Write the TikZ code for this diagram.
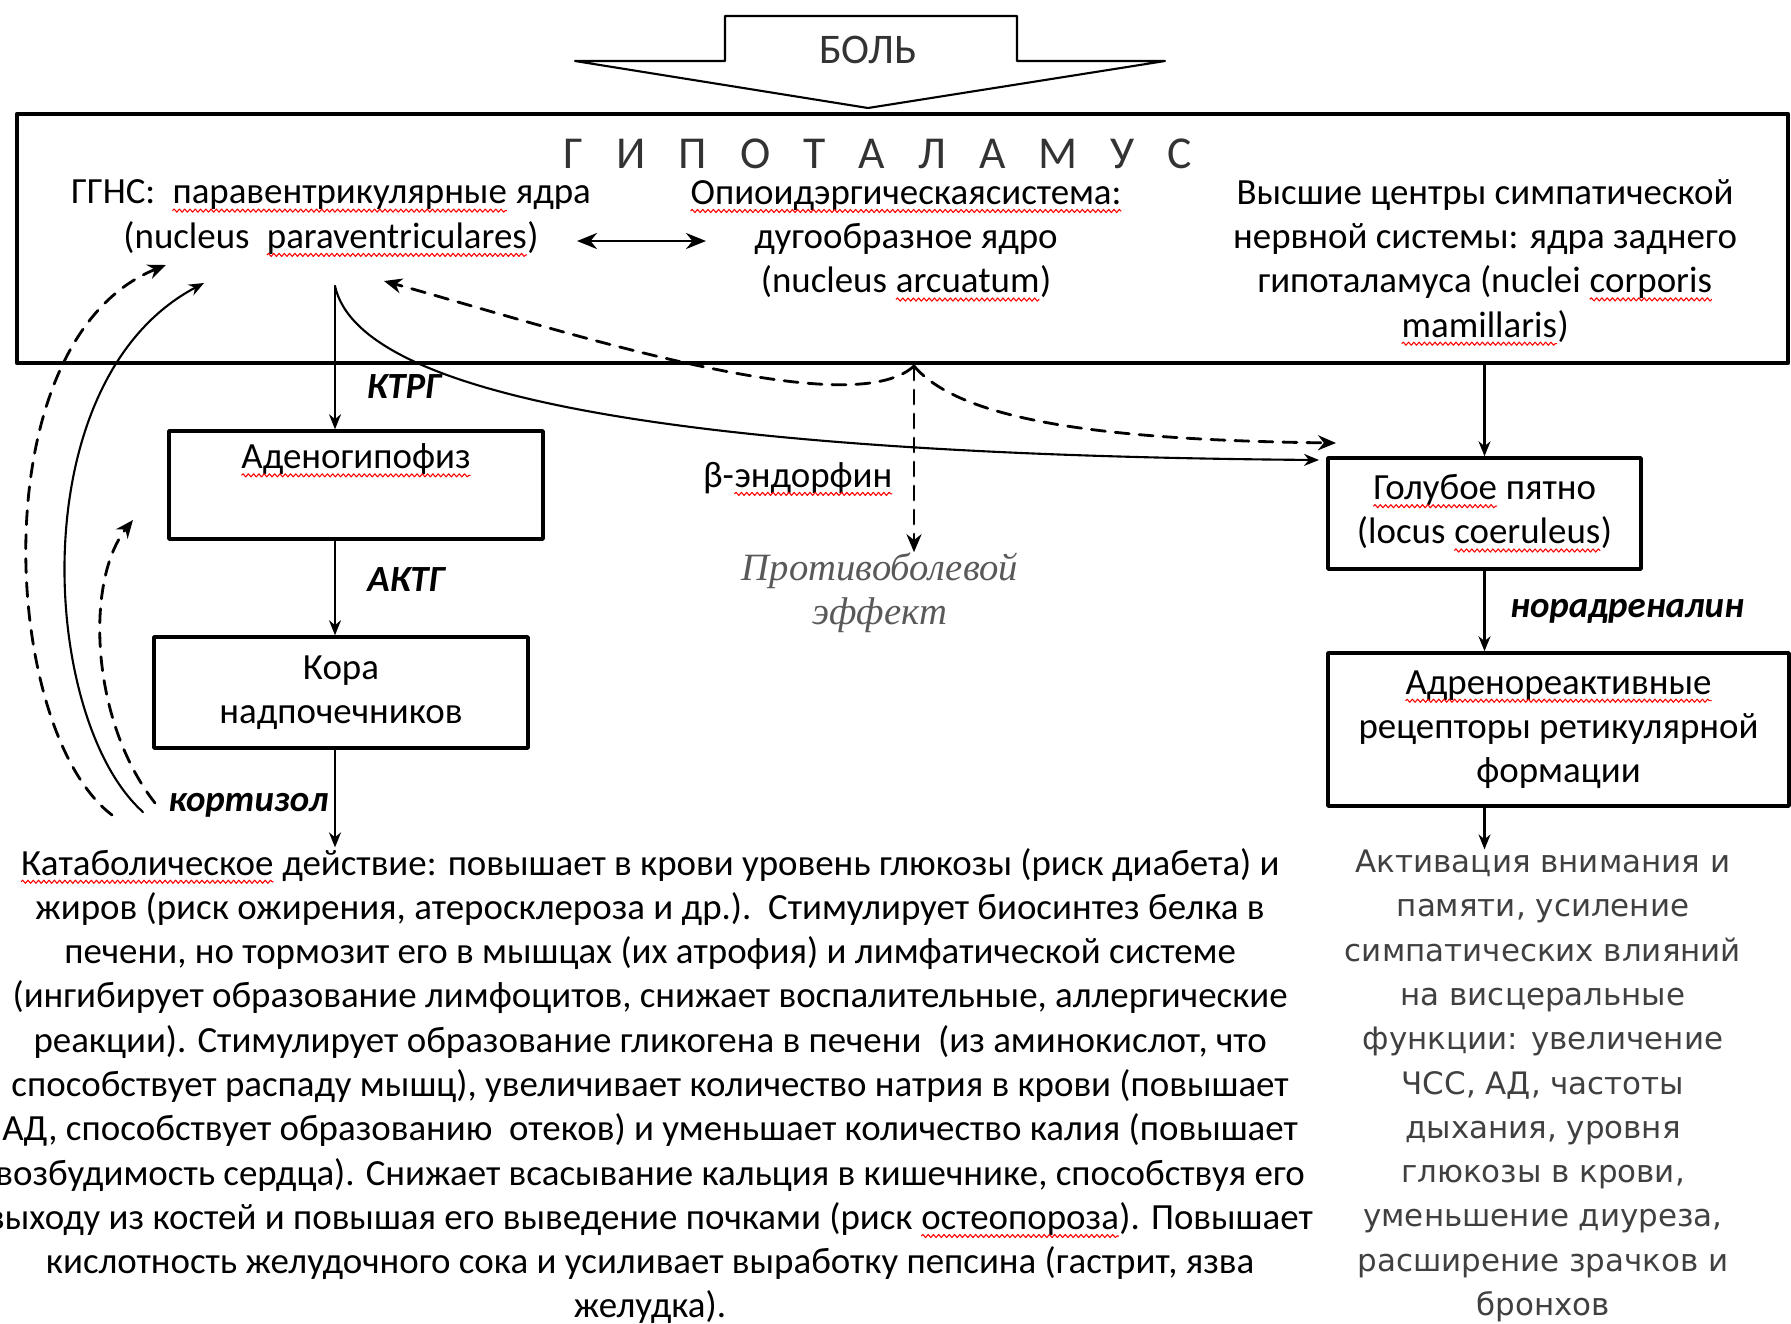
\documentclass[tikz,border=0pt]{standalone}
\usepackage{fontspec}
\setmainfont{Carlito}
\newfontfamily\wideface{DejaVu Sans}
\newfontfamily\serifface{Liberation Serif}
\usetikzlibrary{arrows.meta,decorations.pathmorphing}
\newcommand\spell[1]{\tikz[baseline=(w.base),x=1pt,y=1pt]{\node[inner sep=0pt,outer sep=0pt,anchor=base,minimum size=0pt,draw=none,fill=none] (w) at (0,0) {#1};
  \draw[red,line width=0.3pt,fill=none,decorate,decoration={snake,amplitude=0.45pt,segment length=1.5pt}] ([yshift=-1.9pt]w.base west) -- ([yshift=-1.9pt]w.base east);}}
\newcommand\tgap{\hspace{3.3mm}}

\begin{document}
\begin{tikzpicture}[x=0.1mm,y=-0.1mm,>={Stealth[length=1.5mm,width=1.2mm]},line cap=round,line join=round,
  txt/.style={align=center,inner sep=0pt,font=\fontsize{10.5}{12.6}\selectfont},
  tag/.style={inner sep=0pt,font=\fontsize{10.5}{12.6}\selectfont\bfseries\itshape},
  box/.style={draw,line width=1pt,fill=white,align=center,inner sep=0pt,font=\fontsize{10.5}{12.6}\selectfont},
  link/.style={->,line width=0.6pt},
  dlink/.style={-{Stealth[length=1.8mm,width=1.5mm]},line width=0.8pt,dash pattern=on 1.4mm off 1mm}]
\useasboundingbox (0,0) rectangle (1791,1323);
% pain input
\draw[line width=0.6pt,fill=white] (725,61) -- (725,16) -- (1017,16) -- (1017,61) -- (1165,61) -- (868,108) -- (575,61) -- cycle;
\node[font=\fontsize{12}{14}\selectfont,text=black!80] (pain) at (868,50) {БОЛЬ};
% hypothalamus
\node[draw,line width=1.3pt,minimum width=177.1mm,minimum height=24.9mm,inner sep=0pt] (hypo) at (902.5,238.5) {};
\node[inner sep=0pt,font=\fontsize{13}{14}\selectfont,text=black!80] (title) at (878,154) {Г\tgap И\tgap П\tgap О\tgap Т\tgap А\tgap Л\tgap А\tgap М\tgap У\tgap С};
\node[txt] (pvn) at (331,218.5) {ГГНС:\ \ \spell{паравентрикулярные} ядра\\(nucleus\ \ \spell{paraventriculares})};
\node[txt] (arc) at (906,241) {\spell{Опиоидэргическаясистема:}\\дугообразное ядро\\(nucleus \spell{arcuatum})};
\node[txt] (symp) at (1485,262.5) {Высшие центры симпатической\\нервной системы: ядра заднего\\гипоталамуса (nuclei \spell{corporis}\\\spell{mamillaris})};
\coordinate (pvnR) at (577,241);
\coordinate (arcL) at (706,241);
\draw[{Stealth[length=2mm,width=1.6mm]}-{Stealth[length=2mm,width=1.6mm]},line width=0.8pt] (pvnR) -- (arcL);
% left branch
\node[box,minimum width=37.4mm,minimum height=10.8mm] (adeno) at (356,485) {\spell{Аденогипофиз}\\\strut};
\node[box,minimum width=37.4mm,minimum height=11.1mm] (kora) at (341,692.5) {Кора\\надпочечников};
\node[tag] (ktrg) at (404,387) {КТРГ};
\node[tag] (aktg) at (406,580) {АКТГ};
\node[tag,anchor=east] (cort) at (329,805) {кортизол};
\node[txt] (fx1) at (650,1086) {\spell{Катаболическое} действие: повышает в крови уровень глюкозы (риск диабета) и\\
  жиров (риск ожирения, атеросклероза и др.).\ \ Стимулирует биосинтез белка в\\
  печени, но тормозит его в мышцах (их атрофия) и лимфатической системе\\
  (ингибирует образование лимфоцитов, снижает воспалительные, аллергические\\
  реакции). Стимулирует образование гликогена в печени\ \ (из аминокислот, что\\
  способствует распаду мышц), увеличивает количество натрия в крови (повышает\\
  АД, способствует образованию\ \ отеков) и уменьшает количество калия (повышает\\
  возбудимость сердца). Снижает всасывание кальция в кишечнике, способствуя его\\
  выходу из костей и повышая его выведение почками (риск \spell{остеопороза}). Повышает\\
  кислотность желудочного сока и усиливает выработку пепсина (гастрит, язва\\
  желудка).};
\coordinate (pvnout) at (335,286);
\draw[link] (pvnout) -- (pvnout |- adeno.north);
\draw[link] (pvnout |- adeno.south) -- (pvnout |- kora.north);
\draw[link] (pvnout |- kora.south) -- (pvnout |- fx1.north);
% feedback loops
\coordinate (fbA) at (143,812);
\coordinate (fbB) at (112,815);
\coordinate (fbC) at (155,803);
\coordinate (pvnA) at (204,283);
\coordinate (pvnB) at (166,265);
\coordinate (adenoA) at (133,520);
\draw[link] (fbA) .. controls (40,720) and (20,380) .. (pvnA);
\draw[dlink] (fbB) .. controls (0,730) and (-20,340) .. (pvnB);
\draw[dlink] (fbC) .. controls (90,720) and (85,580) .. (adenoA);
% opioid system
\node[txt] (beta) at (798,479) {β-\spell{эндорфин}};
\node[txt,font=\serifface\itshape\fontsize{11}{12.6}\selectfont,text=black!65] (anti) at (880,593) {Противоболевой\\эффект};
\coordinate (opi) at (914,366);
\coordinate (pvnC) at (384,281);
\coordinate (lcA) at (1336,443);
\coordinate (lcB) at (1319,460);
\draw[dlink] (opi) .. controls (850,425) and (560,330) .. (pvnC);
\draw[dlink] (opi) .. controls (960,420) and (1100,440) .. (lcA);
\draw[dlink] (opi) -- (anti.north -| opi);
% right branch
\node[box,minimum width=31.3mm,minimum height=11.1mm] (lc) at (1484.5,513.5) {\spell{Голубое} пятно\\(locus \spell{coeruleus})};
\node[box,minimum width=46.1mm,minimum height=15.3mm] (adreno) at (1558.5,729.5) {\spell{Адренореактивные}\\рецепторы ретикулярной\\формации};
\node[tag] (nora) at (1627,611) {норадреналин};
\node[align=center,inner sep=0pt,font=\wideface\fontsize{8.8}{12.6}\selectfont,text=black!75] (fx2) at (1543,1086) {Активация внимания и\\памяти, усиление\\симпатических влияний\\на висцеральные\\функции: увеличение\\ЧСС, АД, частоты\\дыхания, уровня\\глюкозы в крови,\\уменьшение диуреза,\\расширение зрачков и\\бронхов};
\draw[link] (pvnout) .. controls (360,400) and (700,455) .. (lcB);
\draw[link] (hypo.south -| lc.north) -- (lc.north);
\draw[link] (lc.south) -- (lc.south |- adreno.north);
\draw[link] (lc.south |- adreno.south) -- (lc.south |- fx2.north);
\end{tikzpicture}
\end{document}
